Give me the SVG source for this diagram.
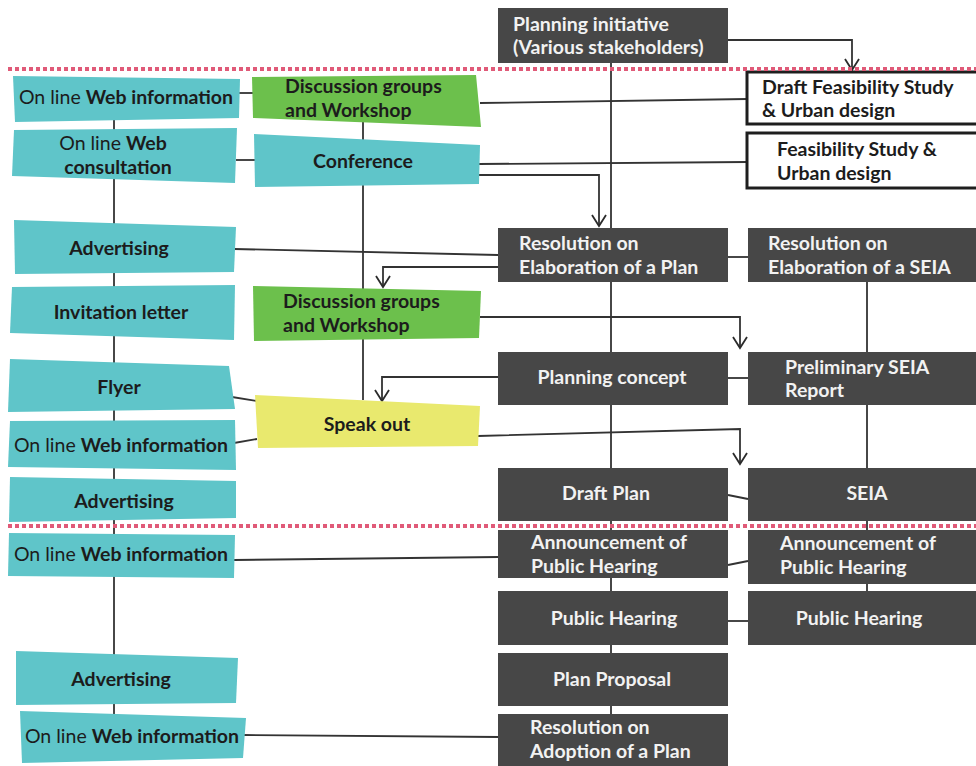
<svg xmlns="http://www.w3.org/2000/svg" width="976" height="766" viewBox="0 0 976 766">
<defs>
<marker id="arr" markerUnits="userSpaceOnUse" orient="auto" refX="0" refY="0" markerWidth="20" markerHeight="20" style="overflow:visible">
<path d="M-11,-7 L0,0 L-11,7" fill="none" stroke="#2b2b2b" stroke-width="1.8"/>
</marker>
</defs>
<style>
text{font-family:Lato,"Open Sans","Liberation Sans",sans-serif;font-size:19.5px;font-weight:bold}
.w{fill:#f2f2f2}
.k{fill:#1c1c1c}
.n{font-weight:normal}
.mid{text-anchor:middle}
.dark{fill:#474747}
.cy{fill:#5fc5c9}
.gr{fill:#6cc04c}
.ye{fill:#e9e96e}
.box{fill:#ffffff;stroke:#1e1e1e;stroke-width:3}
.ln{fill:none;stroke:#333333;stroke-width:1.8}
.dot{fill:none;stroke:#e05a78;stroke-width:4;stroke-dasharray:4 3}
</style>
<rect width="976" height="766" fill="#ffffff"/>
<g id="connectors">
<path class="ln" d="M114,100 L114,720"/>
<path class="ln" d="M363,120 L363,400"/>
<path class="ln" d="M611,63 L611,714"/>
<path class="ln" d="M867,282 L867,591"/>
<path class="ln" d="M728,40 L852,40 L852,70" marker-end="url(#arr)"/>
<path class="ln" d="M238,93 L254,93"/>
<path class="ln" d="M236,160 L256,160"/>
<path class="ln" d="M480,103 L747,99"/>
<path class="ln" d="M479,164 L747,162"/>
<path class="ln" d="M479,175 L599,175 L599,226" marker-end="url(#arr)"/>
<path class="ln" d="M234,249 L498,255"/>
<path class="ln" d="M498,267 L383,267 L383,287" marker-end="url(#arr)"/>
<path class="ln" d="M728,257 L748,257"/>
<path class="ln" d="M480,317 L740,317 L740,348" marker-end="url(#arr)"/>
<path class="ln" d="M498,377 L382,377 L382,401" marker-end="url(#arr)"/>
<path class="ln" d="M728,378 L748,378"/>
<path class="ln" d="M232,397 L257,401"/>
<path class="ln" d="M234,443 L257,439"/>
<path class="ln" d="M478,436 L740,429 L740,464" marker-end="url(#arr)"/>
<path class="ln" d="M728,495 L748,499"/>
<path class="ln" d="M728,565 L748,561"/>
<path class="ln" d="M728,621 L748,621"/>
<path class="ln" d="M234,560 L499,557"/>
<path class="ln" d="M244,735 L499,737"/>
</g>
<g id="n-planning-initiative"><rect class="dark" x="498" y="8" width="230" height="55"/><text class="w" x="513" y="31">Planning initiative</text><text class="w" x="513" y="54">(Various stakeholders)</text></g>
<g id="n-draft-feasibility"><rect class="box" x="747" y="72" width="232" height="52"/><text class="k" x="762" y="94">Draft Feasibility Study</text><text class="k" x="762" y="117">&amp; Urban design</text></g>
<g id="n-feasibility"><rect class="box" x="747" y="133" width="232" height="55"/><text class="k" x="777" y="156">Feasibility Study &amp;</text><text class="k" x="777" y="180">Urban design</text></g>
<g id="n-l1"><polygon class="cy" points="13,76 240,79 239,118 15,122"/><text class="k mid" x="126" y="104"><tspan class="n">On line </tspan>Web information</text></g>
<g id="n-l2"><polygon class="cy" points="14,130 237,128 235,183 12,176"/><text class="k mid" x="113" y="150"><tspan class="n">On line </tspan>Web</text><text class="k mid" x="118" y="174">consultation</text></g>
<g id="n-l3"><polygon class="cy" points="14,220 236,227 234,272 15,274"/><text class="k mid" x="119" y="255">Advertising</text></g>
<g id="n-l4"><polygon class="cy" points="12,287 235,285 234,340 10,333"/><text class="k mid" x="121" y="319">Invitation letter</text></g>
<g id="n-l5"><polygon class="cy" points="10,359 229,366 235,409 8,412"/><text class="k mid" x="119" y="394">Flyer</text></g>
<g id="n-l6"><polygon class="cy" points="10,421 235,420 236,470 8,467"/><text class="k mid" x="121" y="452"><tspan class="n">On line </tspan>Web information</text></g>
<g id="n-l7"><polygon class="cy" points="10,477 236,481 236,518 9,522"/><text class="k mid" x="124" y="508">Advertising</text></g>
<g id="n-l8"><polygon class="cy" points="9,533 235,535 234,578 8,576"/><text class="k mid" x="121" y="561"><tspan class="n">On line </tspan>Web information</text></g>
<g id="n-l9"><polygon class="cy" points="16,651 238,658 236,703 16,705"/><text class="k mid" x="121" y="686">Advertising</text></g>
<g id="n-l10"><polygon class="cy" points="20,711 246,718 243,758 22,763"/><text class="k mid" x="132" y="743"><tspan class="n">On line </tspan>Web information</text></g>
<g id="n-m1"><polygon class="gr" points="252,77 476,75 481,127 253,118"/><text class="k" x="285" y="93">Discussion groups</text><text class="k" x="285" y="117">and Workshop</text></g>
<g id="n-m2"><polygon class="cy" points="254,134 480,145 479,184 255,187"/><text class="k mid" x="363" y="168">Conference</text></g>
<g id="n-m3"><polygon class="gr" points="253,286 481,291 479,338 254,341"/><text class="k" x="283" y="308">Discussion groups</text><text class="k" x="283" y="332">and Workshop</text></g>
<g id="n-m4"><polygon class="ye" points="255,395 480,406 478,446 258,448"/><text class="k mid" x="367" y="431">Speak out</text></g>
<g id="n-res-plan"><rect class="dark" x="498" y="228" width="230" height="54"/><text class="w" x="519" y="250">Resolution on</text><text class="w" x="519" y="274">Elaboration of a Plan</text></g>
<g id="n-res-seia"><rect class="dark" x="748" y="228" width="228" height="54"/><text class="w" x="768" y="250">Resolution on</text><text class="w" x="768" y="274">Elaboration of a SEIA</text></g>
<g id="n-concept"><rect class="dark" x="498" y="352" width="230" height="53"/><text class="w mid" x="612" y="384">Planning concept</text></g>
<g id="n-prelim"><rect class="dark" x="748" y="352" width="228" height="53"/><text class="w" x="785" y="374">Preliminary SEIA</text><text class="w" x="785" y="397">Report</text></g>
<g id="n-draft-plan"><rect class="dark" x="498" y="468" width="230" height="53"/><text class="w mid" x="606" y="500">Draft Plan</text></g>
<g id="n-seia"><rect class="dark" x="748" y="468" width="228" height="53"/><text class="w mid" x="867" y="500">SEIA</text></g>
<g id="n-ann-plan"><rect class="dark" x="498" y="530" width="230" height="48"/><text class="w" x="531" y="549">Announcement of</text><text class="w" x="531" y="573">Public Hearing</text></g>
<g id="n-ann-seia"><rect class="dark" x="748" y="530" width="228" height="54"/><text class="w" x="780" y="550">Announcement of</text><text class="w" x="780" y="574">Public Hearing</text></g>
<g id="n-ph-plan"><rect class="dark" x="498" y="591" width="230" height="54"/><text class="w mid" x="614" y="625">Public Hearing</text></g>
<g id="n-ph-seia"><rect class="dark" x="748" y="591" width="228" height="54"/><text class="w mid" x="859" y="625">Public Hearing</text></g>
<g id="n-proposal"><rect class="dark" x="498" y="653" width="230" height="53"/><text class="w mid" x="612" y="686">Plan Proposal</text></g>
<g id="n-adoption"><rect class="dark" x="498" y="714" width="230" height="52"/><text class="w" x="530" y="734">Resolution on</text><text class="w" x="530" y="758">Adoption of a Plan</text></g>
<g id="dividers">
<path class="dot" d="M8,69 L976,69"/>
<path class="dot" d="M8,526 L976,526"/>
</g>
</svg>
